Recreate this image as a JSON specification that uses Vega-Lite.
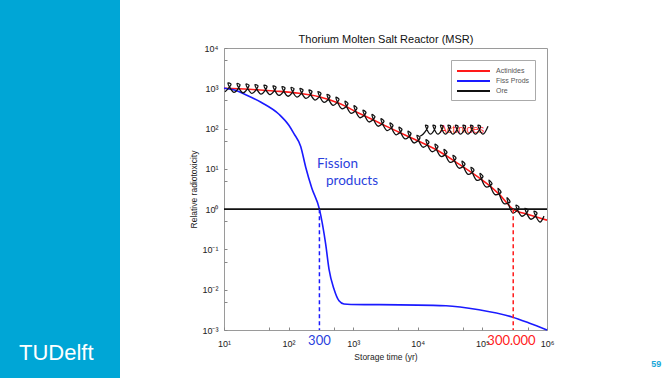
{
  "$schema": "https://vega.github.io/schema/vega-lite/v6.json",
  "padding": 0,
  "background": "#ffffff",
  "spacing": 69,
  "align": "none",
  "title": {"text": "59", "orient": "bottom", "anchor": "end", "offset": -18, "dx": 107, "fontSize": 9, "fontWeight": "bold", "color": "#1aa7d8", "font": "Liberation Sans"},
  "datasets": {
    "lines": [
      {"s": "Actinides", "t": 10, "r": 1000},
      {"s": "Actinides", "t": 24.4, "r": 945},
      {"s": "Actinides", "t": 59.4, "r": 857},
      {"s": "Actinides", "t": 145, "r": 752},
      {"s": "Actinides", "t": 296, "r": 616},
      {"s": "Actinides", "t": 603, "r": 425},
      {"s": "Actinides", "t": 1230, "r": 240},
      {"s": "Actinides", "t": 2510, "r": 140},
      {"s": "Actinides", "t": 5110, "r": 81},
      {"s": "Actinides", "t": 10400, "r": 48.5},
      {"s": "Actinides", "t": 21300, "r": 27.4},
      {"s": "Actinides", "t": 43400, "r": 13.1},
      {"s": "Actinides", "t": 88500, "r": 6.04},
      {"s": "Actinides", "t": 126000, "r": 3.94},
      {"s": "Actinides", "t": 181000, "r": 2.35},
      {"s": "Actinides", "t": 298000, "r": 1.0},
      {"s": "Actinides", "t": 526000, "r": 0.73},
      {"s": "Actinides", "t": 1000000, "r": 0.533},
      {"s": "Fiss Prods", "t": 10, "r": 1000},
      {"s": "Fiss Prods", "t": 15, "r": 890},
      {"s": "Fiss Prods", "t": 21.7, "r": 690},
      {"s": "Fiss Prods", "t": 37.4, "r": 450},
      {"s": "Fiss Prods", "t": 71, "r": 227},
      {"s": "Fiss Prods", "t": 101, "r": 121},
      {"s": "Fiss Prods", "t": 121, "r": 75},
      {"s": "Fiss Prods", "t": 154, "r": 36},
      {"s": "Fiss Prods", "t": 184, "r": 11},
      {"s": "Fiss Prods", "t": 229, "r": 3.3},
      {"s": "Fiss Prods", "t": 300, "r": 1},
      {"s": "Fiss Prods", "t": 375, "r": 0.135},
      {"s": "Fiss Prods", "t": 422, "r": 0.0325},
      {"s": "Fiss Prods", "t": 504, "r": 0.0104},
      {"s": "Fiss Prods", "t": 603, "r": 0.0053},
      {"s": "Fiss Prods", "t": 720, "r": 0.00441},
      {"s": "Fiss Prods", "t": 925, "r": 0.00429},
      {"s": "Fiss Prods", "t": 2510, "r": 0.00426},
      {"s": "Fiss Prods", "t": 27300, "r": 0.004},
      {"s": "Fiss Prods", "t": 88500, "r": 0.00318},
      {"s": "Fiss Prods", "t": 287000, "r": 0.0021},
      {"s": "Fiss Prods", "t": 526000, "r": 0.00149},
      {"s": "Fiss Prods", "t": 1000000, "r": 0.001},
      {"s": "Ore", "t": 10, "r": 1},
      {"s": "Ore", "t": 1000000, "r": 1}
    ],
    "scribble": [
      {"g": 1, "i": 0, "t": 10.36, "r": 814.7},
      {"g": 1, "i": 1, "t": 12.83, "r": 1265},
      {"g": 1, "i": 2, "t": 11.53, "r": 1354},
      {"g": 1, "i": 3, "t": 14.28, "r": 791.8},
      {"g": 1, "i": 4, "t": 17.69, "r": 1222},
      {"g": 1, "i": 5, "t": 15.9, "r": 1309},
      {"g": 1, "i": 6, "t": 19.69, "r": 769.6},
      {"g": 1, "i": 7, "t": 24.38, "r": 1188},
      {"g": 1, "i": 8, "t": 21.91, "r": 1272},
      {"g": 1, "i": 9, "t": 27.13, "r": 743.7},
      {"g": 1, "i": 10, "t": 33.6, "r": 1148},
      {"g": 1, "i": 11, "t": 30.19, "r": 1229},
      {"g": 1, "i": 12, "t": 37.39, "r": 718.7},
      {"g": 1, "i": 13, "t": 46.3, "r": 1109},
      {"g": 1, "i": 14, "t": 41.62, "r": 1188},
      {"g": 1, "i": 15, "t": 51.53, "r": 694.5},
      {"g": 1, "i": 16, "t": 63.83, "r": 1066},
      {"g": 1, "i": 17, "t": 57.35, "r": 1148},
      {"g": 1, "i": 18, "t": 71.03, "r": 663.5},
      {"g": 1, "i": 19, "t": 87.96, "r": 1018},
      {"g": 1, "i": 20, "t": 79.05, "r": 1096},
      {"g": 1, "i": 21, "t": 97.9, "r": 633.8},
      {"g": 1, "i": 22, "t": 121.2, "r": 972.5},
      {"g": 1, "i": 23, "t": 109.0, "r": 1041},
      {"g": 1, "i": 24, "t": 134.9, "r": 605.5},
      {"g": 1, "i": 25, "t": 167.1, "r": 908.1},
      {"g": 1, "i": 26, "t": 150.2, "r": 989.5},
      {"g": 1, "i": 27, "t": 185.9, "r": 559.0},
      {"g": 1, "i": 28, "t": 230.2, "r": 828.8},
      {"g": 1, "i": 29, "t": 206.9, "r": 905.4},
      {"g": 1, "i": 30, "t": 256.3, "r": 510.3},
      {"g": 1, "i": 31, "t": 317.3, "r": 743.7},
      {"g": 1, "i": 32, "t": 285.2, "r": 828.8},
      {"g": 1, "i": 33, "t": 353.2, "r": 447.4},
      {"g": 1, "i": 34, "t": 437.4, "r": 630.3},
      {"g": 1, "i": 35, "t": 393.0, "r": 706.5},
      {"g": 1, "i": 36, "t": 486.8, "r": 378.1},
      {"g": 1, "i": 37, "t": 602.8, "r": 534.0},
      {"g": 1, "i": 38, "t": 541.6, "r": 598.7},
      {"g": 1, "i": 39, "t": 671.0, "r": 310.5},
      {"g": 1, "i": 40, "t": 830.9, "r": 413.0},
      {"g": 1, "i": 41, "t": 746.8, "r": 476.4},
      {"g": 1, "i": 42, "t": 924.7, "r": 240.1},
      {"g": 1, "i": 43, "t": 1145, "r": 319.5},
      {"g": 1, "i": 44, "t": 1029, "r": 368.5},
      {"g": 1, "i": 45, "t": 1274, "r": 185.7},
      {"g": 1, "i": 46, "t": 1578, "r": 249.9},
      {"g": 1, "i": 47, "t": 1418, "r": 286.7},
      {"g": 1, "i": 48, "t": 1756, "r": 145.7},
      {"g": 1, "i": 49, "t": 2175, "r": 195.5},
      {"g": 1, "i": 50, "t": 1954, "r": 224.2},
      {"g": 1, "i": 51, "t": 2420, "r": 114.3},
      {"g": 1, "i": 52, "t": 2998, "r": 152.9},
      {"g": 1, "i": 53, "t": 2693, "r": 175.9},
      {"g": 1, "i": 54, "t": 3336, "r": 89.4},
      {"g": 1, "i": 55, "t": 4131, "r": 120.0},
      {"g": 1, "i": 56, "t": 3713, "r": 138.0},
      {"g": 1, "i": 57, "t": 4597, "r": 69.96},
      {"g": 1, "i": 58, "t": 5693, "r": 94.4},
      {"g": 1, "i": 59, "t": 5117, "r": 108.0},
      {"g": 1, "i": 60, "t": 6337, "r": 55.36},
      {"g": 1, "i": 61, "t": 7847, "r": 74.9},
      {"g": 1, "i": 62, "t": 7052, "r": 85.66},
      {"g": 1, "i": 63, "t": 8733, "r": 43.92},
      {"g": 1, "i": 64, "t": 10817, "r": 59.29},
      {"g": 1, "i": 65, "t": 9719, "r": 67.99},
      {"g": 1, "i": 66, "t": 12036, "r": 34.45},
      {"g": 1, "i": 67, "t": 14910, "r": 45.85},
      {"g": 1, "i": 68, "t": 13396, "r": 52.88},
      {"g": 1, "i": 69, "t": 16590, "r": 26.66},
      {"g": 1, "i": 70, "t": 20550, "r": 35.46},
      {"g": 1, "i": 71, "t": 18470, "r": 40.9},
      {"g": 1, "i": 72, "t": 22860, "r": 20.27},
      {"g": 1, "i": 73, "t": 28310, "r": 25.61},
      {"g": 1, "i": 74, "t": 25440, "r": 30.3},
      {"g": 1, "i": 75, "t": 31510, "r": 14.51},
      {"g": 1, "i": 76, "t": 39030, "r": 18.34},
      {"g": 1, "i": 77, "t": 35070, "r": 21.7},
      {"g": 1, "i": 78, "t": 43430, "r": 10.39},
      {"g": 1, "i": 79, "t": 53790, "r": 13.02},
      {"g": 1, "i": 80, "t": 48330, "r": 15.5},
      {"g": 1, "i": 81, "t": 59850, "r": 7.335},
      {"g": 1, "i": 82, "t": 74130, "r": 9.218},
      {"g": 1, "i": 83, "t": 66610, "r": 10.94},
      {"g": 1, "i": 84, "t": 82480, "r": 5.194},
      {"g": 1, "i": 85, "t": 102160, "r": 6.396},
      {"g": 1, "i": 86, "t": 91800, "r": 7.7},
      {"g": 1, "i": 87, "t": 113680, "r": 3.562},
      {"g": 1, "i": 88, "t": 140800, "r": 4.24},
      {"g": 1, "i": 89, "t": 126530, "r": 5.238},
      {"g": 1, "i": 90, "t": 156700, "r": 2.301},
      {"g": 1, "i": 91, "t": 194100, "r": 2.625},
      {"g": 1, "i": 92, "t": 174400, "r": 3.298},
      {"g": 1, "i": 93, "t": 216000, "r": 1.377},
      {"g": 1, "i": 94, "t": 267500, "r": 1.508},
      {"g": 1, "i": 95, "t": 240400, "r": 1.918},
      {"g": 1, "i": 96, "t": 297600, "r": 0.796},
      {"g": 1, "i": 97, "t": 368600, "r": 1.115},
      {"g": 1, "i": 98, "t": 331300, "r": 1.256},
      {"g": 1, "i": 99, "t": 410200, "r": 0.6667},
      {"g": 1, "i": 100, "t": 508100, "r": 0.9337},
      {"g": 1, "i": 101, "t": 456500, "r": 1.047},
      {"g": 1, "i": 102, "t": 565300, "r": 0.5617},
      {"g": 1, "i": 103, "t": 700200, "r": 0.8003},
      {"g": 1, "i": 104, "t": 629300, "r": 0.8921},
      {"g": 1, "i": 105, "t": 779100, "r": 0.4787},
      {"g": 1, "i": 106, "t": 898700, "r": 0.6706},
      {"g": 2, "i": 0, "t": 10817, "r": 64.58},
      {"g": 2, "i": 1, "t": 12036, "r": 72.39},
      {"g": 2, "i": 2, "t": 14380, "r": 114.3},
      {"g": 2, "i": 3, "t": 13160, "r": 121.0},
      {"g": 2, "i": 4, "t": 15720, "r": 72.39},
      {"g": 2, "i": 5, "t": 18790, "r": 114.3},
      {"g": 2, "i": 6, "t": 17190, "r": 121.0},
      {"g": 2, "i": 7, "t": 20550, "r": 72.39},
      {"g": 2, "i": 8, "t": 24550, "r": 114.3},
      {"g": 2, "i": 9, "t": 22460, "r": 121.0},
      {"g": 2, "i": 10, "t": 26850, "r": 72.39},
      {"g": 2, "i": 11, "t": 32090, "r": 114.3},
      {"g": 2, "i": 12, "t": 29350, "r": 121.0},
      {"g": 2, "i": 13, "t": 35070, "r": 72.39},
      {"g": 2, "i": 14, "t": 41910, "r": 114.3},
      {"g": 2, "i": 15, "t": 38340, "r": 121.0},
      {"g": 2, "i": 16, "t": 45810, "r": 72.39},
      {"g": 2, "i": 17, "t": 54750, "r": 114.3},
      {"g": 2, "i": 18, "t": 50090, "r": 121.0},
      {"g": 2, "i": 19, "t": 59850, "r": 72.39},
      {"g": 2, "i": 20, "t": 71520, "r": 114.3},
      {"g": 2, "i": 21, "t": 65430, "r": 121.0},
      {"g": 2, "i": 22, "t": 78220, "r": 72.39},
      {"g": 2, "i": 23, "t": 93460, "r": 114.3},
      {"g": 2, "i": 24, "t": 85490, "r": 121.0},
      {"g": 2, "i": 25, "t": 102160, "r": 72.39},
      {"g": 2, "i": 26, "t": 122100, "r": 114.3}
    ]
  },
  "hconcat": [
    {
      "width": 120,
      "height": 378,
      "view": {"fill": "#00a6d6", "stroke": null},
      "title": {"text": "TUDelft", "orient": "bottom", "anchor": "start", "offset": -35, "dx": 19, "color": "#ffffff", "fontSize": 22, "fontWeight": "normal", "font": "Liberation Sans"},
      "data": {"values": [{"k": ""}]},
      "mark": {"type": "text"},
      "encoding": {"text": {"field": "k"}}
    },
    {
      "spacing": 0,
      "vconcat": [
        {
          "width": 323,
          "height": 32,
          "view": {"stroke": null, "fill": null},
          "data": {"values": [{"k": ""}]},
          "mark": {"type": "text"},
          "encoding": {"text": {"field": "k"}}
        },
        {
          "width": 323,
          "height": 282,
          "view": {"stroke": "#9a9a9a", "fill": "#ffffff"},
          "encoding": {
            "y": {
              "field": "r", "type": "quantitative",
              "scale": {"type": "log", "domain": [0.001, 10000], "nice": false},
              "axis": {
                "title": "Relative radiotoxicity",
                "values": [0.001, 0.005, 0.01, 0.05, 0.1, 0.5, 1, 5, 10, 50, 100, 500, 1000, 5000, 10000],
                "labelExpr": "datum.value == 0.001 ? '10⁻³' : datum.value == 0.01 ? '10⁻²' : datum.value == 0.1 ? '10⁻¹' : datum.value == 1 ? '10⁰' : datum.value == 10 ? '10¹' : datum.value == 100 ? '10²' : datum.value == 1000 ? '10³' : datum.value == 10000 ? '10⁴' : ''",
                "domain": false, "grid": false, "tickSize": -3, "tickColor": "#888888",
                "labelPadding": 9, "labelFontSize": 9, "labelColor": "#222222", "labelOverlap": false,
                "titleFontSize": 8.5, "titleFontWeight": "normal", "titleColor": "#222222", "titlePadding": 3
              }
            }
          },
          "layer": [
            {
              "encoding": {
                "x": {
                  "field": "t", "type": "quantitative",
                  "scale": {"type": "log", "domain": [10, 1000000], "nice": false},
                  "axis": {
                    "title": "Storage time (yr)",
                    "values": [10, 50, 100, 500, 1000, 5000, 10000, 50000, 100000, 500000, 1000000],
                    "labelExpr": "datum.value == 10 ? '10¹' : datum.value == 100 ? '10²' : datum.value == 1000 ? '10³' : datum.value == 10000 ? '10⁴' : datum.value == 100000 ? '10⁵' : datum.value == 1000000 ? '10⁶' : ''",
                    "domain": false, "grid": false, "tickSize": -3, "tickColor": "#888888",
                    "labelPadding": 12, "labelFontSize": 9, "labelColor": "#222222", "labelFlush": false, "labelOverlap": false,
                    "titleFontSize": 8.5, "titleFontWeight": "normal", "titleColor": "#222222", "titlePadding": 4
                  }
                }
              },
              "layer": [
                {
                  "data": {"name": "lines"},
                  "mark": {"type": "line", "strokeWidth": 1.6, "interpolate": "monotone"},
                  "encoding": {
                    "color": {
                      "field": "s", "type": "nominal",
                      "scale": {"domain": ["Actinides", "Fiss Prods", "Ore"], "range": ["#ff1a1a", "#1a1aff", "#111111"]},
                      "legend": {"title": null, "orient": "none", "legendX": 451, "legendY": 60, "symbolType": "M-1,0H5.6", "symbolSize": 100, "symbolStrokeWidth": 2, "labelFontSize": 7, "labelColor": "#555555", "strokeColor": "#aaaaaa", "fillColor": "#ffffff", "padding": 5, "rowPadding": 0, "labelOffset": 28}
                    }
                  }
                },
                {
                  "data": {"values": [{"t": 300, "r": 1, "r2": 0.001}]},
                  "mark": {"type": "rule", "color": "#1a1aff", "strokeWidth": 1.5, "strokeDash": [4, 3]},
                  "encoding": {"y2": {"field": "r2"}}
                },
                {
                  "data": {"values": [{"label": "Actinides", "t": 48330, "r": 91}]},
                  "mark": {"type": "text", "color": "#ff2a2a", "fontSize": 11, "font": "Liberation Sans", "align": "center", "baseline": "middle"},
                  "encoding": {"text": {"field": "label"}}
                },
                {
                  "data": {"name": "scribble"},
                  "mark": {"type": "line", "color": "#111111", "strokeWidth": 1.3, "interpolate": "catmull-rom"},
                  "encoding": {"detail": {"field": "g"}, "order": {"field": "i"}}
                },
                {
                  "data": {"values": [{"label": "Fission", "t": 275, "r": 13.05}, {"label": "products", "t": 379, "r": 5.03}]},
                  "mark": {"type": "text", "color": "#2a3fdd", "fontSize": 13.5, "font": "Lato", "align": "left", "baseline": "middle"},
                  "encoding": {"text": {"field": "label"}}
                },
                {
                  "data": {"values": [{"label": "300", "t": 300, "r": 0.000533}]},
                  "mark": {"type": "text", "color": "#2a3fdd", "fontSize": 13, "font": "Lato", "align": "center", "baseline": "middle"},
                  "encoding": {"text": {"field": "label"}}
                },
                {
                  "data": {"values": [{"label": "300.000", "t": 282200, "r": 0.000533}]},
                  "mark": {"type": "text", "color": "#ff2020", "fontSize": 13, "font": "Lato", "align": "center", "baseline": "middle"},
                  "encoding": {"text": {"field": "label"}}
                }
              ]
            },
            {
              "data": {"values": [{"t": 300000, "r": 1, "r2": 0.001}]},
              "mark": {"type": "rule", "color": "#ff1a1a", "strokeWidth": 1.5, "strokeDash": [4, 3]},
              "encoding": {
                "x": {
                  "field": "t", "type": "quantitative",
                  "scale": {"type": "log", "domain": [10, 1000000], "nice": false},
                  "axis": {"orient": "top", "labels": false, "ticks": false, "domain": false, "grid": false, "title": "Thorium Molten Salt Reactor (MSR)", "titleFontSize": 11, "titleFontWeight": "normal", "titleColor": "#111111", "titlePadding": 4, "titleFont": "Liberation Sans"}
                },
                "y2": {"field": "r2"}
              }
            }
          ],
          "resolve": {"axis": {"x": "independent"}}
        }
      ]
    }
  ],
  "config": {"font": "Liberation Sans", "view": {"stroke": null}}
}
